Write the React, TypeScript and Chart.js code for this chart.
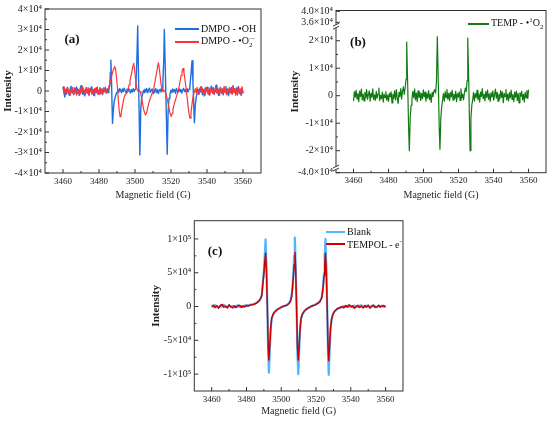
import { useEffect, useRef } from "react";
import type { CSSProperties, ReactNode } from "react";
import { Chart, registerables } from "chart.js";
import type { ChartConfiguration } from "chart.js";

Chart.register(...registerables);

const serif = "'Liberation Serif', 'DejaVu Serif', serif";

// x axis (shared by all three panels)
const fieldTicks = [3460, 3480, 3500, 3520, 3540, 3560];
const fieldMinor = [3470, 3490, 3510, 3530, 3550];

// panel (a): DMPO adducts, [field G, intensity]
const dmpoOH: [number, number][] = [
  [3460, 1800], [3460.5, -600], [3461, -2900], [3461.5, 800], [3462, -1500], [3462.5, 1900], [3463, -300], [3463.5, -2100],
  [3464, 1200], [3464.5, 2300], [3465, -900], [3465.5, 400], [3466, -1700], [3466.5, 1500], [3467, -400], [3467.5, 2000],
  [3468, -1300], [3468.5, 700], [3469, -2200], [3469.5, 1100], [3470, 2600], [3470.5, -500], [3471, -1600], [3471.5, 900],
  [3472, -2400], [3472.5, 300], [3473, 1700], [3473.5, -1100], [3474, 600], [3474.5, -1900], [3475, 1400], [3475.5, -200],
  [3476, 2100], [3476.5, -1400], [3477, 500], [3477.5, -2300], [3478, 1000], [3478.5, -700], [3479, 1800], [3479.5, -1500],
  [3480, 200], [3480.5, 1600], [3481, -1200], [3481.5, 800], [3482, -1800], [3482.5, 1300], [3483, -400], [3483.5, 1900],
  [3484, -1000], [3484.5, 600], [3485, -800], [3485.5, 1400],
  [3486, 2500], [3486.3, 9000], [3486.6, 15000], [3487, 3000], [3487.5, -15800], [3488, -9000], [3488.5, -5000], [3489, -3000],
  [3489.5, -1500], [3490, -500], [3490.5, 800], [3491, -600], [3491.5, 1200], [3492, 300], [3492.5, -900], [3493, 1000],
  [3493.5, -300], [3494, 1400], [3494.5, 200], [3495, -800], [3495.5, 900], [3496, -400], [3496.5, 1300], [3497, 100],
  [3497.5, -1000], [3498, 700], [3498.5, -500], [3499, 1100], [3499.5, -200], [3500, 800], [3500.5, 3000], [3501, 14000],
  [3501.5, 31700], [3502, 5000], [3502.7, -31200], [3503.2, -9000], [3503.7, -3500], [3504.2, -1500], [3504.7, 300], [3505, -700],
  [3505.5, 900], [3506, -300], [3506.5, 1200], [3507, -900], [3507.5, 500], [3508, 1400], [3508.5, -600], [3509, 200],
  [3509.5, 1000], [3510, -1100], [3510.5, 400], [3511, -400], [3511.5, 1200], [3512, -800], [3512.5, 600], [3513, -1200],
  [3513.5, 300], [3514, 900], [3514.5, -500], [3515, 1300], [3515.5, 4000], [3516, 16000], [3516.3, 30000], [3516.9, 8000],
  [3517.9, -30900], [3518.4, -10000], [3518.9, -3500], [3519.4, -1500], [3520, 400], [3520.5, -800], [3521, 1000], [3521.5, -400],
  [3522, 700], [3522.5, -1100], [3523, 1200], [3523.5, 200], [3524, -600], [3524.5, 1100], [3525, -300], [3525.5, 800],
  [3526, -1000], [3526.5, 500], [3527, 1300], [3527.5, -200], [3528, 600], [3528.5, -900], [3529, 1100], [3529.5, -400],
  [3530, 900], [3530.5, 2500], [3531, 7000], [3531.7, 14800], [3532.2, 4000], [3533, -15500], [3533.5, -7000], [3534, -3000],
  [3534.5, -1200], [3535, 600], [3535.5, -1500], [3536, 1300], [3536.5, -400], [3537, 2000], [3537.5, -1800], [3538, 700],
  [3538.5, -2400], [3539, 1500], [3539.5, -200], [3540, 1900], [3540.5, -1300], [3541, 400], [3541.5, -2000], [3542, 1100],
  [3542.5, 2400], [3543, -700], [3543.5, 1600], [3544, -1700], [3544.5, 300], [3545, 2800], [3545.5, -900], [3546, 1200],
  [3546.5, -2200], [3547, 600], [3547.5, 1800], [3548, -1100], [3548.5, 900], [3549, -1900], [3549.5, 1400], [3550, -300],
  [3550.5, 2100], [3551, -1500], [3551.5, 500], [3552, -2300], [3552.5, 1200], [3553, -600], [3553.5, 1700], [3554, -1400],
  [3554.5, 2500], [3555, -800], [3555.5, 1000], [3556, -2000], [3556.5, 1600], [3557, -300], [3557.5, 2200], [3558, -1200],
  [3558.5, 400], [3559, -2100], [3559.5, 1300], [3560, -1000],
];

const dmpoO2: [number, number][] = [
  [3460, 2200], [3460.5, -800], [3461, 1000], [3461.5, -1900], [3462, 600], [3462.5, 1700], [3463, -1200], [3463.5, 300],
  [3464, -2200], [3464.5, 900], [3465, 1800], [3465.5, -600], [3466, -1600], [3466.5, 1100], [3467, -300], [3467.5, -2000],
  [3468, 1300], [3468.5, -900], [3469, 500], [3469.5, -1700], [3470, 1500], [3470.5, -400], [3471, 2000], [3471.5, -1300],
  [3472, 200], [3472.5, -1800], [3473, 1200], [3473.5, -700], [3474, 1600], [3474.5, -2300], [3475, 400], [3475.5, 1000],
  [3476, -1500], [3476.5, 700], [3477, -2100], [3477.5, 1300], [3478, -300], [3478.5, 1800], [3479, -1100], [3479.5, 500],
  [3480, -1700], [3480.5, 1400], [3481, -600], [3481.5, 1100], [3482, -1400], [3482.5, 1600], [3483, -200], [3483.5, 900],
  [3484, -1000], [3484.5, 1200],
  [3485, 800], [3485.5, 2500], [3486, 3500], [3486.5, 5500], [3487, 7000], [3487.5, 9000], [3488, 10500], [3488.8, 11900],
  [3489.3, 10000], [3489.8, 6000], [3490.3, 1000], [3490.8, -5000], [3491.2, -9500], [3491.7, -12500], [3492.2, -11500], [3492.7, -9000],
  [3493.2, -6500], [3493.7, -4000], [3494.2, -2500], [3494.7, -1800], [3495.2, -1200], [3495.7, -300], [3496.2, 1200], [3496.7, 3000],
  [3497.2, 5000], [3497.7, 7000], [3498.2, 9000], [3498.7, 11500], [3499.3, 13500], [3499.8, 10000], [3500.3, 6000], [3500.8, 2000],
  [3501.3, 500], [3501.8, -200], [3502.3, 400], [3502.8, -300], [3503.3, -1500], [3503.8, -4000], [3504.3, -6500], [3504.8, -9000],
  [3505.3, -10500], [3505.9, -11700], [3506.5, -10500], [3507, -8500], [3507.5, -6500], [3508, -5000], [3508.5, -3500], [3509, -2500],
  [3509.5, -1200], [3510, 200], [3510.5, 2000], [3511, 4000], [3511.5, 6500], [3512, 9000], [3512.5, 11500], [3513, 13800],
  [3513.5, 11000], [3514, 7000], [3514.5, 3000], [3515, 800], [3515.5, -300], [3516, 500], [3516.5, -200], [3517, -800],
  [3517.5, -2500], [3518, -4500], [3518.5, -6500], [3519, -9000], [3519.5, -11000], [3520.1, -12500], [3520.6, -11000], [3521.1, -9000],
  [3521.6, -7000], [3522.1, -5500], [3522.6, -4000], [3523.1, -2500], [3523.6, -1000], [3524.1, 500], [3524.6, 2500], [3525.1, 5000],
  [3525.6, 7500], [3526.1, 9500], [3526.7, 11000], [3527.2, 9000], [3527.7, 6000], [3528.2, 2500], [3528.7, -1000], [3529.2, -5000],
  [3529.7, -9000], [3530.2, -12000], [3530.6, -13300], [3531.1, -11000], [3531.6, -7000], [3532.1, -3500], [3532.6, -1500], [3533, -500],
  [3533.5, 1200], [3534, -900], [3534.5, 1800], [3535, -400], [3535.5, -1700], [3536, 1000], [3536.5, 2100], [3537, -600],
  [3537.5, 1300], [3538, -1500], [3538.5, 500], [3539, -2000], [3539.5, 1600], [3540, -300], [3540.5, 900], [3541, -1800],
  [3541.5, 1400], [3542, -700], [3542.5, 2000], [3543, -1200], [3543.5, 300], [3544, -1600], [3544.5, 1100], [3545, -500],
  [3545.5, 1900], [3546, -1300], [3546.5, 700], [3547, -2100], [3547.5, 1500], [3548, -200], [3548.5, 1000], [3549, -1400],
  [3549.5, 2300], [3550, -800], [3550.5, 600], [3551, -1900], [3551.5, 1200], [3552, -400], [3552.5, 1700], [3553, -1100],
  [3553.5, 400], [3554, -1600], [3554.5, 2600], [3555, -700], [3555.5, 1300], [3556, -1500], [3556.5, 800], [3557, -2000],
  [3557.5, 1800], [3558, -300], [3558.5, 1100], [3559, -1700], [3559.5, 2200], [3560, -1300],
];

const aTicks = [-40000, -30000, -20000, -10000, 0, 10000, 20000, 30000, 40000];
const aLabels = ["-4×10⁴", "-3×10⁴", "-2×10⁴", "-1×10⁴", "0", "1×10⁴", "2×10⁴", "3×10⁴", "4×10⁴"];
const aMinor = [-35000, -25000, -15000, -5000, 5000, 15000, 25000, 35000];

// panel (b): TEMP singlet oxygen adduct
const temp1O2: [number, number][] = [
  [3460, -2000], [3460.5, 1500], [3461, -500], [3461.5, 2000], [3462, -1200], [3462.5, 800], [3463, -2200], [3463.5, 1700],
  [3464, -300], [3464.5, 2400], [3465, -1500], [3465.5, 600], [3466, -1900], [3466.5, 1200], [3467, -800], [3467.5, 2200],
  [3468, -1300], [3468.5, 400], [3469, 1800], [3469.5, -2000], [3470, 900], [3470.5, -600], [3471, 2500], [3471.5, -1400],
  [3472, 300], [3472.5, -1700], [3473, 1600], [3473.5, -900], [3474, 700], [3474.5, 2800], [3475, -1800], [3475.5, 100],
  [3476, -1100], [3476.5, 1300], [3477, -2300], [3477.5, 600], [3478, -700], [3478.5, 1500], [3479, -1600], [3479.5, 200],
  [3480, -2100], [3480.5, 900], [3481, -400], [3481.5, 1400], [3482, -2600], [3482.5, 500], [3483, -1000], [3483.5, 1800],
  [3484, -1500], [3484.5, 2200], [3485, -800], [3485.5, -2800], [3486, 1200], [3486.5, -300], [3487, 2600], [3487.5, -1200],
  [3488, 1600], [3488.5, 3200], [3489, 500], [3489.5, 2800], [3490, 6000], [3490.4, 19500], [3491, 3000], [3491.5, -12000],
  [3491.9, -20000], [3492.4, -8000], [3492.9, -3500], [3493.4, -1000], [3493.9, 1500], [3494.4, -800], [3494.9, 2500], [3495.4, -1500],
  [3495.9, 1000], [3496.4, -2200], [3496.9, 1800], [3497.4, -600], [3497.9, 1200], [3498.4, -1800], [3498.9, 900], [3499.4, -1100],
  [3499.9, 2100], [3500.4, -400], [3500.9, 1300], [3501.4, -2000], [3501.9, 700], [3502.4, -900], [3502.9, 1900], [3503.4, -1400],
  [3503.9, 600], [3504.4, -2400], [3504.9, 1100], [3505.4, -300], [3505.9, 1600], [3506.4, 2200], [3506.9, 1000], [3507.4, 5000],
  [3507.9, 21500], [3508.5, 4000], [3509, -12000], [3509.4, -19500], [3509.9, -8000], [3510.4, -4000], [3510.9, -1500], [3511.4, 800],
  [3511.9, -2000], [3512.4, 1500], [3512.9, -600], [3513.4, 2300], [3513.9, -1300], [3514.4, 900], [3514.9, -1800], [3515.4, 1200],
  [3515.9, -400], [3516.4, 2000], [3516.9, -1600], [3517.4, 500], [3517.9, -1000], [3518.4, 1700], [3518.9, -2200], [3519.4, 800],
  [3519.9, -500], [3520.4, 1400], [3520.9, -1700], [3521.4, 2500], [3521.9, -900], [3522.4, 600], [3522.9, -1500], [3523.4, 1100],
  [3523.9, 2800], [3524.4, 1500], [3524.9, 5500], [3525.3, 21000], [3525.9, 4000], [3526.3, -10000], [3526.6, -20000], [3527.1, -8000],
  [3527.6, -3500], [3528.1, -1500], [3528.6, 1200], [3529.1, -2000], [3529.6, 800], [3530.1, -700], [3530.6, 2000], [3531.1, -1400],
  [3531.6, 600], [3532.1, -2300], [3532.6, 1300], [3533.1, -300], [3533.6, 2600], [3534.1, -1100], [3534.6, 400], [3535.1, -1900],
  [3535.6, 1500], [3536.1, -600], [3536.6, 2100], [3537.1, -1300], [3537.6, 700], [3538.1, -2100], [3538.6, 1000], [3539.1, -400],
  [3539.6, 1800], [3540.1, -1600], [3540.6, 300], [3541.1, 2400], [3541.6, -900], [3542.1, 1200], [3542.6, -2000], [3543.1, 500],
  [3543.6, -1200], [3544.1, 1900], [3544.6, -600], [3545.1, 1400], [3545.6, -2500], [3546.1, 900], [3546.6, -300], [3547.1, 2200],
  [3547.6, -1500], [3548.1, 600], [3548.6, -1900], [3549.1, 1100], [3549.6, -800], [3550.1, 2000], [3550.6, -1300], [3551.1, 400],
  [3551.6, -2200], [3552.1, 1300], [3552.6, -500], [3553.1, 1700], [3553.6, -1800], [3554.1, 800], [3554.6, -2600], [3555.1, 1000],
  [3555.6, -200], [3556.1, 1600], [3556.6, -1400], [3557.1, 500], [3557.6, -2300], [3558.1, 1200], [3558.6, -700], [3559.1, 1900],
  [3559.6, -1000], [3560, 2200],
];

// the (b) axis is broken: real tick values and their labels
const bTicks = [-40000, -20000, -10000, 0, 10000, 20000, 36000, 40000];
const bLabels = ["-4.0×10⁴", "-2×10⁴", "-1×10⁴", "0", "1×10⁴", "2×10⁴", "3.6×10⁴", "4.0×10⁴"];
const bMinor = [-15000, -5000, 5000, 15000];
const bBreaks = [25300, -26300];

// squeeze the parts of the (b) axis beyond the breaks
function broken(v: number) {
  if (v >= 30000) return v - 9300;
  if (v <= -30000) return v + 12000;
  return v;
}

// panel (c): TEMPOL, blank vs electrons
const blank: [number, number][] = [
  [3460, 1500], [3461, -1000], [3462, 2000], [3463, 500], [3464, -1500], [3465, 1000], [3466, -500], [3467, 2500],
  [3468, 0], [3469, -1000], [3470, 1500], [3471, -500], [3472, 1000], [3473, -1500], [3474, 500], [3475, 2000],
  [3476, -500], [3477, 1000], [3478, -1000], [3479, 1500], [3480, 2000], [3481, 1500], [3482, 2500], [3483, 3000],
  [3484, 3500], [3485, 4500], [3486, 6000], [3487, 8000], [3488, 11500], [3488.8, 17000], [3489.5, 38000], [3490, 52000],
  [3490.5, 75000], [3491, 99500], [3491.5, 60000], [3492, 0], [3492.5, -70000], [3492.9, -98000], [3493.4, -65000], [3493.9, -35000],
  [3494.5, -18000], [3495.5, -11000], [3496.5, -7500], [3497.5, -5000], [3498.5, -3500], [3499.5, -2000], [3500.5, -500], [3501.5, 500],
  [3502.5, 1500], [3503.5, 3000], [3504.5, 5000], [3505.2, 8000], [3505.9, 15000], [3506.5, 30000], [3507, 50000], [3507.4, 75000],
  [3507.8, 102000], [3508.3, 60000], [3508.8, 0], [3509.3, -70000], [3509.8, -100000], [3510.3, -65000], [3510.8, -35000], [3511.4, -18000],
  [3512.3, -11000], [3513.3, -7000], [3514.3, -4500], [3515.3, -3000], [3516.3, -1500], [3517.3, 0], [3518.3, 1500], [3519.3, 2500],
  [3520.3, 4000], [3521.3, 5500], [3522.3, 8000], [3523.3, 14000], [3524, 28000], [3524.6, 50000], [3525, 75000], [3525.4, 100000],
  [3525.9, 60000], [3526.4, 0], [3526.9, -70000], [3527.3, -101000], [3527.8, -65000], [3528.3, -35000], [3528.9, -20000], [3529.8, -11000],
  [3530.8, -7000], [3531.8, -4500], [3532.8, -3000], [3533.8, -2000], [3535, -1000], [3536, 500], [3537, -500], [3538, 1500],
  [3539, 0], [3540, 1000], [3541, -1000], [3542, 1500], [3543, 500], [3544, -500], [3545, 1000], [3546, 2000],
  [3547, 0], [3548, -1000], [3549, 1500], [3550, 500], [3551, -500], [3552, 1000], [3553, 2000], [3554, 0],
  [3555, -1000], [3556, 1000], [3557, 500], [3558, 1500], [3559, -500], [3560, 500],
];

const tempolE: [number, number][] = [
  [3460, 0], [3461, 2000], [3462, -1500], [3463, 1000], [3464, -2500], [3465, 1500], [3466, 3000], [3467, -1000],
  [3468, 500], [3469, -2000], [3470, 2500], [3471, -500], [3472, -2000], [3473, 1000], [3474, -1500], [3475, 500],
  [3476, 2000], [3477, -1500], [3478, 1000], [3479, -500], [3480, 1500], [3481, 500], [3482, 2000], [3483, 2500],
  [3484, 3000], [3485, 4000], [3486, 5500], [3487, 7500], [3488, 11000], [3488.8, 16000], [3489.5, 36000], [3490, 48000],
  [3490.5, 65000], [3491, 79000], [3491.5, 50000], [3492, 0], [3492.5, -60000], [3492.9, -79000], [3493.4, -58000], [3493.9, -33000],
  [3494.5, -17000], [3495.5, -10500], [3496.5, -7000], [3497.5, -5000], [3498.5, -3000], [3499.5, -1500], [3500.5, -500], [3501.5, 1000],
  [3502.5, 1000], [3503.5, 2500], [3504.5, 4500], [3505.2, 7500], [3505.9, 14000], [3506.5, 28000], [3507, 46000], [3507.4, 62000],
  [3507.9, 80000], [3508.3, 52000], [3508.8, 0], [3509.3, -60000], [3509.8, -79000], [3510.3, -58000], [3510.8, -33000], [3511.4, -17000],
  [3512.3, -10500], [3513.3, -6500], [3514.3, -4000], [3515.3, -2500], [3516.3, -1000], [3517.3, 500], [3518.3, 1500], [3519.3, 2000],
  [3520.3, 3500], [3521.3, 5000], [3522.3, 7500], [3523.3, 13000], [3524, 26000], [3524.6, 46000], [3525, 62000], [3525.4, 79000],
  [3525.9, 52000], [3526.4, 0], [3526.9, -60000], [3527.3, -80000], [3527.8, -58000], [3528.3, -33000], [3528.9, -19000], [3529.8, -10500],
  [3530.8, -6500], [3531.8, -4000], [3532.8, -2500], [3533.8, -1500], [3535, 0], [3536, -2000], [3537, 1500], [3538, -1000],
  [3539, 2500], [3540, -500], [3541, 1000], [3542, -2500], [3543, -500], [3544, 2000], [3545, -1500], [3546, 500],
  [3547, -2000], [3548, 1500], [3549, -1000], [3550, 2000], [3551, -2500], [3552, 0], [3553, 1500], [3554, -1500],
  [3555, -500], [3556, 2000], [3557, -1000], [3558, 500], [3559, 1500], [3560, -500],
];

const cTicks = [-100000, -50000, 0, 50000, 100000];
const cLabels = ["-1×10⁵", "-5×10⁴", "0", "5×10⁴", "1×10⁵"];
const cMinor = [-75000, -25000, 25000, 75000];

// Origin-style box with inward ticks, plus optional axis breaks
const framePlugin = {
  id: "frame",
  afterDraw(chart: any, _args: any, opts: any) {
    const { ctx, chartArea: a, scales } = chart;
    const x = scales.x;
    const y = scales.y;
    ctx.save();
    ctx.strokeStyle = "#333";
    ctx.lineWidth = 1;
    ctx.strokeRect(a.left, a.top, a.right - a.left, a.bottom - a.top);
    ctx.beginPath();
    x.ticks.forEach((t: any) => {
      const px = x.getPixelForValue(t.value);
      ctx.moveTo(px, a.bottom);
      ctx.lineTo(px, a.bottom - 4);
    });
    (opts.xMinor || []).forEach((v: number) => {
      const px = x.getPixelForValue(v);
      ctx.moveTo(px, a.bottom);
      ctx.lineTo(px, a.bottom - 2);
    });
    y.ticks.forEach((t: any) => {
      const py = y.getPixelForValue(t.value);
      ctx.moveTo(a.left, py);
      ctx.lineTo(a.left + 4, py);
    });
    (opts.yMinor || []).forEach((v: number) => {
      const py = y.getPixelForValue(v);
      ctx.moveTo(a.left, py);
      ctx.lineTo(a.left + 2, py);
    });
    ctx.stroke();
    (opts.yBreaks || []).forEach((v: number) => {
      const py = y.getPixelForValue(v);
      ctx.fillStyle = "#fff";
      ctx.fillRect(a.left - 3, py - 1.5, 6, 3);
      ctx.beginPath();
      ctx.moveTo(a.left - 3, py);
      ctx.lineTo(a.left + 3, py - 3);
      ctx.moveTo(a.left - 3, py + 3);
      ctx.lineTo(a.left + 3, py);
      ctx.stroke();
    });
    ctx.restore();
  },
};

type Frame = { padTop: number; padRight: number; yWidth: number; xHeight: number; yTitlePad: number };
type YAxis = {
  min: number;
  max: number;
  ticks: number[];
  labels: string[];
  minor: number[];
  breaks?: number[];
  map?: (v: number) => number;
};

function spectrumConfig(datasets: any[], frame: Frame, yAxis: YAxis): ChartConfiguration<"line"> {
  const toAxis = yAxis.map || ((v: number) => v);
  return {
    type: "line",
    data: { datasets },
    options: {
      animation: false,
      responsive: true,
      maintainAspectRatio: false,
      layout: { padding: { top: frame.padTop, right: frame.padRight, left: 0, bottom: 0 } },
      elements: { point: { radius: 0 }, line: { tension: 0, borderJoinStyle: "round" } },
      plugins: {
        legend: { display: false },
        tooltip: { enabled: false },
        frame: { xMinor: fieldMinor, yMinor: yAxis.minor, yBreaks: yAxis.breaks },
      } as any,
      scales: {
        x: {
          type: "linear",
          min: 3450,
          max: 3570,
          afterBuildTicks: (s: any) => {
            s.ticks = fieldTicks.map((v) => ({ value: v }));
          },
          afterFit: (s: any) => {
            s.height = frame.xHeight;
          },
          grid: { display: false, drawTicks: false },
          border: { display: false },
          ticks: {
            autoSkip: false,
            maxRotation: 0,
            padding: 3,
            color: "#222",
            font: { family: serif, size: 9 },
            callback: (v: any) => String(v),
          },
          title: {
            display: true,
            text: "Magnetic field (G)",
            color: "#222",
            padding: { top: 0, bottom: 4 },
            font: { family: serif, size: 10 },
          },
        },
        y: {
          type: "linear",
          min: yAxis.min,
          max: yAxis.max,
          afterBuildTicks: (s: any) => {
            s.ticks = yAxis.ticks.map((v) => ({ value: toAxis(v) }));
          },
          afterFit: (s: any) => {
            s.width = frame.yWidth;
          },
          grid: { display: false, drawTicks: false },
          border: { display: false },
          ticks: {
            autoSkip: false,
            padding: 3,
            color: "#222",
            font: { family: serif, size: 10 },
            callback: (_v: any, i: number) => yAxis.labels[i],
          },
          title: {
            display: true,
            text: "Intensity",
            color: "#222",
            padding: { top: frame.yTitlePad, bottom: 0 },
            font: { family: serif, size: 11, weight: "bold" },
          },
        },
      },
    },
    plugins: [framePlugin as any],
  };
}

function line(points: [number, number][], color: string, width: number) {
  return { data: points, borderColor: color, borderWidth: width, fill: false };
}

const configA = spectrumConfig(
  [line(dmpoO2, "#ff3535", 1.2), line(dmpoOH, "#1f6fe0", 1.4)],
  { padTop: 9, padRight: 9, yWidth: 45, xHeight: 32, yTitlePad: 1.5 },
  { min: -40000, max: 40000, ticks: aTicks, labels: aLabels, minor: aMinor }
);

const configB = spectrumConfig(
  [line(temp1O2, "#127a12", 1.2)],
  { padTop: 10.5, padRight: 4, yWidth: 49, xHeight: 32.3, yTitlePad: 1.5 },
  { min: -28000, max: 31000, ticks: bTicks, labels: bLabels, minor: bMinor, breaks: bBreaks, map: broken }
);

const configC = spectrumConfig(
  [line(tempolE, "#cc0000", 1.5), line(blank, "#4db6ff", 2.2)],
  { padTop: 10.7, padRight: 8, yWidth: 44.3, xHeight: 30, yTitlePad: 0 },
  { min: -125000, max: 127000, ticks: cTicks, labels: cLabels, minor: cMinor }
);

function ChartCanvas({ config, style }: { config: ChartConfiguration<"line">; style: CSSProperties }) {
  const ref = useRef<HTMLCanvasElement | null>(null);

  useEffect(() => {
    if (!ref.current) return;
    const chart = new Chart(ref.current, config);
    return () => chart.destroy();
  }, [config]);

  return (
    <div style={{ position: "absolute", ...style }}>
      <canvas ref={ref} />
    </div>
  );
}

const textStyle: CSSProperties = { position: "absolute", fontFamily: serif, color: "#111", lineHeight: 1, whiteSpace: "nowrap" };

function LegendRow({ x, y, w, color, children }: { x: number; y: number; w: number; color: string; children: ReactNode }) {
  return (
    <>
      <div style={{ position: "absolute", left: x, top: y - 1, width: w, height: 2, background: color }} />
      <div style={{ ...textStyle, left: x + w + 2, top: y, fontSize: 10, transform: "translateY(-50%)" }}>{children}</div>
    </>
  );
}

function PanelLabel({ x, y, text }: { x: number; y: number; text: string }) {
  return (
    <div style={{ ...textStyle, left: x, top: y, fontSize: 13, fontWeight: "bold", transform: "translate(-50%, -50%)" }}>
      {text}
    </div>
  );
}

const small: CSSProperties = { fontSize: 7 };

export default function App() {
  return (
    <div style={{ position: "absolute", left: 0, top: 0, width: 550, height: 423, background: "#fff", overflow: "hidden" }}>
      <ChartCanvas config={configA} style={{ left: 0, top: 0, width: 270, height: 205 }} />
      <ChartCanvas config={configB} style={{ left: 287, top: 0, width: 263, height: 205 }} />
      <ChartCanvas config={configC} style={{ left: 150, top: 210, width: 261, height: 211 }} />

      <PanelLabel x={72} y={38} text="(a)" />
      <PanelLabel x={358} y={41} text="(b)" />
      <PanelLabel x={215} y={250} text="(c)" />

      <LegendRow x={175} y={29} w={24} color="#1f6fe0">
        DMPO - •OH
      </LegendRow>
      <LegendRow x={175} y={42} w={24} color="#ff3535">
        DMPO - •O
        <span style={{ display: "inline-flex", flexDirection: "column", verticalAlign: "middle", lineHeight: 0.9, ...small }}>
          <span>·−</span>
          <span>2</span>
        </span>
      </LegendRow>

      <LegendRow x={468} y={24} w={21} color="#127a12">
        TEMP - •<sup style={small}>1</sup>O<sub style={small}>2</sub>
      </LegendRow>

      <LegendRow x={326} y={232} w={19} color="#4db6ff">
        Blank
      </LegendRow>
      <LegendRow x={326} y={244} w={19} color="#cc0000">
        TEMPOL - e<sup style={small}>-</sup>
      </LegendRow>
    </div>
  );
}
